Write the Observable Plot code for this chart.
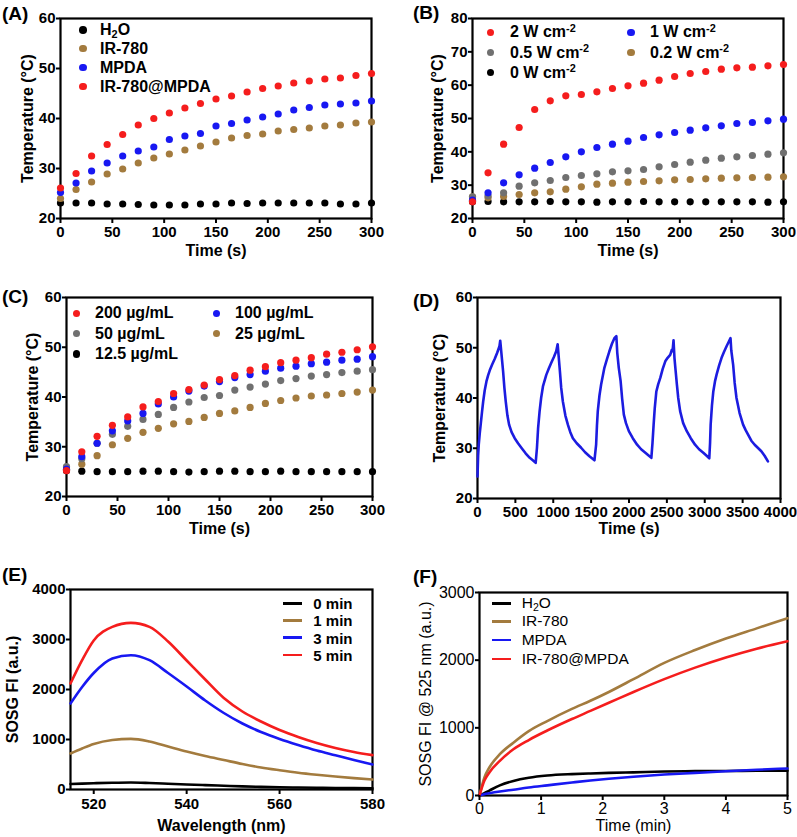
<!DOCTYPE html>
<html><head><meta charset="utf-8">
<script src="https://cdn.jsdelivr.net/npm/d3@7"></script>
<script src="https://cdn.jsdelivr.net/npm/@observablehq/plot@0.6"></script>
<style>
body{margin:0;background:#fff;}
#root{position:relative;width:797px;height:837px;font-family:"Liberation Sans",Arial,Helvetica,sans-serif;color:#000;overflow:hidden;}
.panel{position:absolute;}
.plbl{position:absolute;font-weight:bold;font-size:19px;line-height:1;transform:translateY(-50%);}
.leg{position:absolute;white-space:nowrap;line-height:1;transform:translateY(-50%);}
.mk{position:absolute;}
sub,sup{font-size:0.68em;line-height:0;vertical-align:baseline;position:relative;}
sub{top:0.28em;}
sup{top:-0.5em;}
</style></head><body><div id="root"></div>
<script>
const FONT = '"Liberation Sans", Arial, Helvetica, sans-serif';
const RED = "#f51d1d", BLUE = "#1818f2", BROWN = "#a37b3e", GRAY = "#707070", BLACK = "#000000";

// ---------- Panel A ----------
const timeA = [0,15,30,45,60,75,90,105,120,135,150,165,180,195,210,225,240,255,270,285,300];
const A_h2o    = [23.1,23.1,23.1,22.9,22.9,22.8,22.7,22.7,22.7,22.9,22.9,23.1,23.0,23.1,23.1,23.1,23.1,23.1,22.9,22.9,23.1];
const A_ir780  = [24.0,25.8,27.3,28.9,29.9,31.1,32.1,32.9,33.7,34.5,35.3,36.1,36.6,36.9,37.5,37.8,38.1,38.5,38.7,39.1,39.3];
const A_mpda   = [25.2,27.1,29.5,31.1,32.5,33.5,34.3,35.8,36.5,37.0,38.5,39.0,39.7,40.3,40.9,41.7,42.2,42.7,42.9,43.1,43.5];
const A_irmpda = [26.1,29.0,32.5,34.8,36.8,38.7,40.0,41.1,42.1,43.0,43.9,44.5,45.3,46.0,46.5,47.1,47.5,47.9,48.1,48.6,49.0];
const A_names = ["H<sub>2</sub>O","IR-780","MPDA","IR-780@MPDA"];
const A_ticksX = [0,50,100,150,200,250,300];
const A_ticksY = [20,30,40,50,60];

// ---------- Panel B ----------
const B_2W  = [25.0,33.7,42.3,47.3,52.7,55.3,56.8,57.2,58.0,59.0,59.8,60.6,61.5,62.6,63.5,64.1,64.8,65.2,65.4,65.8,66.2];
const B_1W  = [25.5,27.7,30.7,33.1,35.1,36.8,38.5,40.0,41.3,42.3,43.2,44.3,45.1,45.8,46.5,47.2,47.8,48.5,48.8,49.3,49.8];
const B_05W = [26.5,26.8,27.7,29.7,30.7,31.4,32.3,32.9,33.4,34.0,34.3,34.7,35.5,36.2,36.9,37.5,38.1,38.5,38.9,39.3,39.7];
const B_02W = [26.5,26.2,26.6,27.2,27.7,28.0,28.8,29.5,30.3,30.6,30.9,31.1,31.3,31.6,31.7,31.9,32.1,32.2,32.3,32.4,32.5];
const B_0W  = [25.0,25.1,25.0,25.0,25.0,25.1,25.0,25.0,24.9,25.0,25.0,25.1,25.0,25.0,25.0,25.0,25.0,25.0,25.0,24.9,25.0];
const B_names = ["2 W cm<sup>-2</sup>","1 W cm<sup>-2</sup>","0.5 W cm<sup>-2</sup>","0.2 W cm<sup>-2</sup>","0 W cm<sup>-2</sup>"];
const B_ticksY = [20,30,40,50,60,70,80];

// ---------- Panel C ----------
const C_200 = [25.2,29.0,32.1,34.3,36.0,38.0,39.1,40.7,41.5,42.4,43.5,44.3,45.4,46.1,46.9,47.4,47.9,48.6,49.0,49.5,50.1];
const C_100 = [25.5,28.0,30.7,33.2,35.2,36.7,38.6,40.0,41.2,42.2,43.1,43.9,44.5,45.2,45.8,46.2,46.7,47.0,47.4,47.6,48.1];
const C_50  = [26.0,27.6,30.7,32.5,34.1,35.5,36.5,37.9,39.0,39.9,40.3,41.4,42.0,42.6,43.3,43.7,44.2,44.5,44.9,45.2,45.5];
const C_25  = [25.5,26.5,28.2,30.4,31.7,32.9,33.7,34.6,35.1,35.9,36.7,37.2,37.9,38.7,39.3,39.8,40.2,40.4,40.7,41.0,41.4];
const C_12  = [25.2,25.1,25.0,25.0,25.0,25.1,25.1,25.0,24.9,25.0,25.1,25.1,25.0,25.0,25.1,25.0,25.0,25.0,25.0,25.0,25.0];
const C_names = ["200 µg/mL","100 µg/mL","50 µg/mL","25 µg/mL","12.5 µg/mL"];

// ---------- Panel D ----------
const D_time = [0,8,17,30,44,60,75,95,118,140,162,195,228,260,290,300,
  338,355,373,395,417,450,491,535,579,635,689,730,768,
  785,800,820,840,864,908,940,974,1010,1039,1058,
  1088,1105,1127,1160,1193,1225,1259,1310,1368,1420,1478,1544,
  1566,1577,1588,1610,1632,1675,1710,1741,1775,1807,1833,
  1845,1865,1889,1910,1932,1960,1998,2050,2107,2160,2216,2255,2295,
  2310,2325,2340,2361,2385,2413,2445,2479,2510,2544,2566,2575,2588,
  2600,2615,2632,2650,2675,2715,2763,2815,2872,2925,2981,3025,3060,
  3070,3078,3095,3113,3135,3157,3190,3222,3255,3288,3320,3340,
  3350,3375,3395,3419,3460,3506,3540,3572,3615,3659,3700,3747,3790,3834];
const D_temp = [24.4,28.5,30.8,33.0,35.0,37.3,39.3,41.5,43.3,44.5,45.5,46.7,47.8,49.0,50.3,51.4,
  45.3,42.0,39.3,36.5,34.7,33.2,32.0,31.0,30.1,29.0,28.1,27.6,27.1,
  30.1,34.0,37.4,40.0,42.3,44.6,45.8,47.0,48.2,49.3,50.7,
  45.3,42.0,39.3,36.5,34.7,33.2,32.0,31.0,30.1,29.2,28.4,27.6,
  30.7,34.5,37.4,40.5,42.7,46.0,47.8,49.3,50.8,51.9,52.3,
  49.0,46.0,43.4,39.8,36.7,35.0,33.4,32.0,30.7,29.8,29.1,28.6,28.1,
  31.0,34.7,38.0,41.3,42.7,44.0,45.8,47.3,48.0,48.6,49.6,49.3,51.5,
  48.0,45.5,42.7,40.0,37.4,35.0,33.4,32.0,30.7,29.8,29.1,28.5,28.0,
  31.0,34.7,38.5,41.3,43.3,44.7,46.5,48.0,49.2,50.3,51.3,51.9,
  49.5,46.6,43.0,40.0,37.0,34.7,33.6,32.7,31.5,30.7,30.1,29.4,28.5,27.4];
const D_ticksX = [0,500,1000,1500,2000,2500,3000,3500,4000];

// ---------- Panel E ----------
const E_wl   = [515,517.5,520,524,528,532,536,540,544,548,552,556,560,564,568,572,576,580];
const E_0min = [110,118,125,135,140,130,115,100,88,75,62,52,45,40,35,30,27,25];
const E_1min = [720,820,910,990,1013,960,860,760,670,590,510,440,385,335,295,260,228,200];
const E_3min = [1720,2050,2330,2620,2686,2586,2330,2060,1780,1530,1320,1150,1010,890,780,685,590,500];
const E_5min = [2120,2586,2980,3252,3332,3252,2960,2580,2200,1830,1560,1360,1190,1050,930,830,750,687];
const E_names = ["0 min","1 min","3 min","5 min"];
const E_ticksX = [520,540,560,580];
const E_ticksY = [0,1000,2000,3000,4000];

// ---------- Panel F ----------
const F_time   = [0,0.08,0.16,0.33,0.55,0.8,1.1,1.5,1.8,2.1,2.5,3,3.5,4,4.5,5];
const F_h2o    = [0,35,73,150,215,262,295,316,326,334,342,354,360,363,365,366];
const F_ir780  = [0,268,414,610,780,951,1100,1280,1400,1530,1720,1960,2150,2320,2470,2620];
const F_mpda   = [0,20,33,58,86,118,150,192,222,248,278,310,334,358,380,400];
const F_irmpda = [0,220,341,512,683,820,960,1130,1250,1370,1530,1720,1890,2040,2170,2280];
const F_names = ["H<sub>2</sub>O","IR-780","MPDA","IR-780@MPDA"];
const F_ticksX = [0,1,2,3,4,5];
const F_ticksY = [0,1000,2000,3000];

const root = document.getElementById("root");
const rows = (xs, ys) => xs.map((x, i) => ({x, y: ys[i]}));

function panel(cfg) {
  const w = cfg.bold ? "bold" : "normal";
  const svg = Plot.plot({
    width: cfg.width, height: cfg.height,
    marginLeft: cfg.mL, marginRight: cfg.mR, marginTop: cfg.mT, marginBottom: cfg.mB,
    style: {fontFamily: FONT, fontSize: cfg.tickFont + "px", fontWeight: w, color: "#000", background: "transparent", overflow: "visible"},
    x: {domain: cfg.xDomain},
    y: {domain: cfg.yDomain},
    marks: [
      Plot.frame({stroke: "#000", strokeWidth: 2.2}),
      ...cfg.marks,
      Plot.axisX({ticks: cfg.xTicks, tickSize: 5, tickPadding: cfg.xPad, strokeWidth: 2, label: null, tickFormat: d => String(d), fontWeight: w, fontSize: cfg.tickFont}),
      Plot.axisY({ticks: cfg.yTicks, tickSize: 4, tickPadding: 1, strokeWidth: 2, label: null, tickFormat: d => String(d), fontWeight: w, fontSize: cfg.tickFont}),
      Plot.text([cfg.xLabel], {text: d => d, frameAnchor: "bottom", textAnchor: "middle", lineAnchor: "middle", dy: cfg.xLabelDy, fontSize: cfg.labelFont, fontWeight: w}),
      Plot.text([cfg.yLabel], {text: d => d, frameAnchor: "left", textAnchor: "middle", lineAnchor: "middle", dx: cfg.yLabelDx, rotate: -90, fontSize: cfg.labelFont, fontWeight: w})
    ]
  });
  const div = document.createElement("div");
  div.className = "panel";
  div.style.left = cfg.left + "px";
  div.style.top = cfg.top + "px";
  div.appendChild(svg);
  root.appendChild(div);
}

function dotSeries(xs, list) {
  return list.map(([ys, c]) => Plot.dot(rows(xs, ys), {x: "x", y: "y", fill: c, r: 3.6, stroke: "none"}));
}
function lineSeries(xs, list, curve) {
  return list.map(([ys, c]) => Plot.line(rows(xs, ys), {x: "x", y: "y", stroke: c, strokeWidth: 2.6, curve}));
}

function label(text, x, y) {
  const d = document.createElement("div");
  d.className = "plbl"; d.textContent = text;
  d.style.left = x + "px"; d.style.top = y + "px";
  root.appendChild(d);
}
function legendItem(html, color, kind, mx, tx, y, font, bold) {
  const m = document.createElement("div");
  m.className = "mk";
  if (kind === "dot") {
    const r = 3.8;
    m.style.cssText = `left:${mx - r}px;top:${y - r}px;width:${2*r}px;height:${2*r}px;border-radius:50%;background:${color};`;
  } else {
    m.style.cssText = `left:${mx}px;top:${y - 1.4}px;width:19px;height:2.8px;background:${color};`;
  }
  root.appendChild(m);
  const t = document.createElement("div");
  t.className = "leg"; t.innerHTML = html;
  t.style.left = tx + "px"; t.style.top = y + "px";
  t.style.fontSize = font + "px"; t.style.fontWeight = bold ? "bold" : "normal";
  root.appendChild(t);
}

// Panel A
panel({left: 0, top: 0, width: 398, height: 270, mL: 60, mR: 27, mT: 18, mB: 52, bold: true, tickFont: 15, labelFont: 16, xPad: 3,
  xDomain: [0, 300], yDomain: [20, 60], xTicks: A_ticksX, yTicks: A_ticksY,
  xLabel: "Time (s)", yLabel: "Temperature (°C)", xLabelDy: 32, yLabelDx: -33,
  marks: dotSeries(timeA, [[A_h2o, BLACK], [A_ir780, BROWN], [A_mpda, BLUE], [A_irmpda, RED]])});
label("(A)", 2, 12.5);
[[A_names[0], BLACK, 30], [A_names[1], BROWN, 48.5], [A_names[2], BLUE, 67.5], [A_names[3], RED, 86.5]]
  .forEach(([n, c, y]) => legendItem(n, c, "dot", 83, 100, y, 16, true));

// Panel B
panel({left: 400, top: 0, width: 397, height: 270, mL: 72, mR: 14, mT: 18, mB: 52, bold: true, tickFont: 15, labelFont: 16, xPad: 3,
  xDomain: [0, 300], yDomain: [20, 80], xTicks: A_ticksX, yTicks: B_ticksY,
  xLabel: "Time (s)", yLabel: "Temperature (°C)", xLabelDy: 32, yLabelDx: -35,
  marks: dotSeries(timeA, [[B_0W, BLACK], [B_02W, BROWN], [B_05W, GRAY], [B_1W, BLUE], [B_2W, RED]])});
label("(B)", 413, 12);
[[B_names[0], RED, 490.7, 510, 32.3], [B_names[1], BLUE, 631, 650, 32.3], [B_names[2], GRAY, 490.7, 510, 52.7],
 [B_names[3], BROWN, 631, 650, 52.7], [B_names[4], BLACK, 490.7, 510, 72.7]]
  .forEach(([n, c, mx, tx, y]) => legendItem(n, c, "dot", mx, tx, y, 16, true));

// Panel C
panel({left: 0, top: 280, width: 398, height: 260, mL: 66, mR: 26, mT: 17, mB: 44, bold: true, tickFont: 15, labelFont: 16, xPad: 3,
  xDomain: [0, 300], yDomain: [20, 60], xTicks: A_ticksX, yTicks: A_ticksY,
  xLabel: "Time (s)", yLabel: "Temperature (°C)", xLabelDy: 32, yLabelDx: -34,
  marks: dotSeries(timeA, [[C_12, BLACK], [C_25, BROWN], [C_50, GRAY], [C_100, BLUE], [C_200, RED]])});
label("(C)", 2, 296);
[[C_names[0], RED, 76.7, 95, 313.3], [C_names[1], BLUE, 216.7, 235, 313.3], [C_names[2], GRAY, 76.7, 95, 333.5],
 [C_names[3], BROWN, 216.7, 235, 333.5], [C_names[4], BLACK, 76.7, 95, 354]]
  .forEach(([n, c, mx, tx, y]) => legendItem(n, c, "dot", mx, tx, y, 16, true));

// Panel D
panel({left: 400, top: 280, width: 397, height: 260, mL: 77, mR: 17, mT: 17, mB: 42, bold: true, tickFont: 15, labelFont: 16, xPad: 3,
  xDomain: [0, 4000], yDomain: [20, 60], xTicks: D_ticksX, yTicks: A_ticksY,
  xLabel: "Time (s)", yLabel: "Temperature (°C)", xLabelDy: 30, yLabelDx: -38,
  marks: lineSeries(D_time, [[D_temp, "#1c1ce0"]], "linear")});
label("(D)", 413, 300);

// Panel E
panel({left: 0, top: 540, width: 398, height: 297, mL: 70, mR: 26, mT: 49, mB: 48, bold: true, tickFont: 15, labelFont: 16, xPad: 4,
  xDomain: [515, 580], yDomain: [0, 4000], xTicks: E_ticksX, yTicks: E_ticksY,
  xLabel: "Wavelength (nm)", yLabel: "SOSG FI (a.u.)", xLabelDy: 36, yLabelDx: -58,
  marks: lineSeries(E_wl, [[E_0min, BLACK], [E_1min, BROWN], [E_3min, BLUE], [E_5min, RED]], "monotone-x")});
label("(E)", 2, 574);
[[E_names[0], BLACK, 603.3], [E_names[1], BROWN, 620.3], [E_names[2], BLUE, 637.7], [E_names[3], RED, 655]]
  .forEach(([n, c, y]) => legendItem(n, c, "line", 282.7, 313.3, y, 15, true));

// Panel F
panel({left: 400, top: 540, width: 397, height: 297, mL: 79, mR: 10, mT: 52, mB: 42, bold: false, tickFont: 16, labelFont: 16, xPad: 2,
  xDomain: [0, 5], yDomain: [0, 3000], xTicks: F_ticksX, yTicks: F_ticksY,
  xLabel: "Time (min)", yLabel: "SOSG FI @ 525 nm (a.u.)", xLabelDy: 30, yLabelDx: -54,
  marks: lineSeries(F_time, [[F_h2o, BLACK], [F_ir780, BROWN], [F_mpda, BLUE], [F_irmpda, RED]], "monotone-x")});
label("(F)", 413, 575.5);
[[F_names[0], BLACK, 603.3], [F_names[1], BROWN, 621.3], [F_names[2], BLUE, 640], [F_names[3], RED, 659]]
  .forEach(([n, c, y]) => legendItem(n, c, "line", 491.7, 521.7, y, 15.5, false));
</script></body></html>
